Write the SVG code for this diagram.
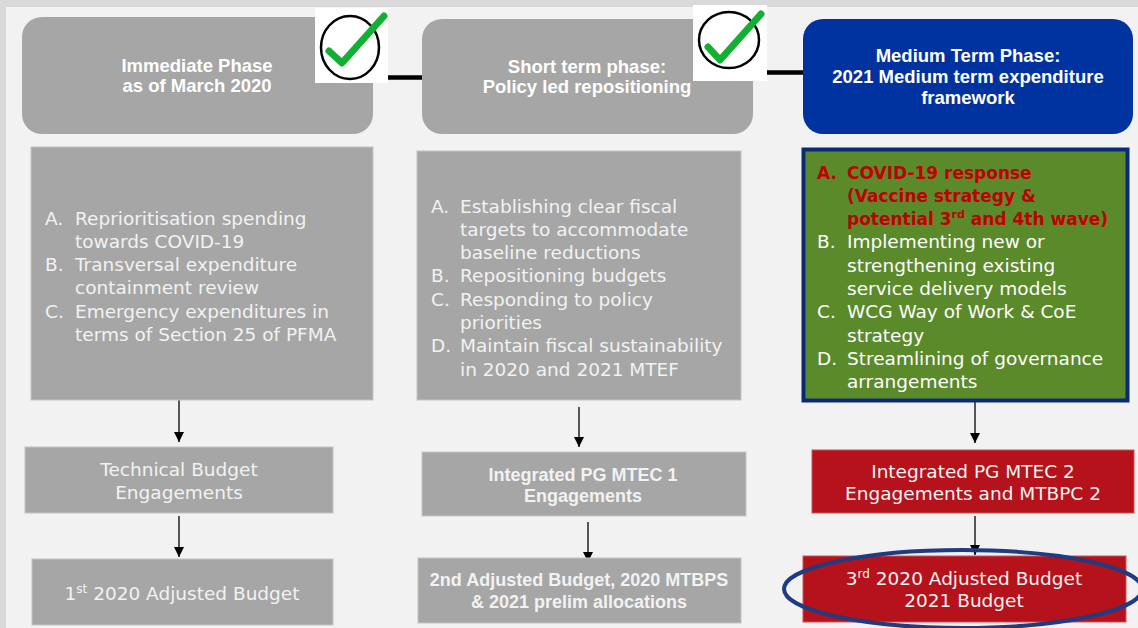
<svg xmlns="http://www.w3.org/2000/svg" width="1138" height="628" viewBox="0 0 1138 628">
<defs>
<style>
.bg{fill:#f2f2f2}
.frame{fill:#d9d9d9}
.gray{fill:#a6a6a6;stroke:#c4c4c4;stroke-width:1}
.red{fill:#b5121b;stroke:#c9545a;stroke-width:1}
.title{font-family:"Liberation Sans",Arial,sans-serif;font-weight:bold;font-size:18.5px;fill:#ffffff;text-anchor:middle}
.list{font-family:"DejaVu Sans","Liberation Sans",sans-serif;font-size:18.5px;fill:#f2f2f2}
.listw{font-family:"DejaVu Sans","Liberation Sans",sans-serif;font-size:18.5px;fill:#ffffff}
.listr{font-family:"DejaVu Sans","Liberation Sans",sans-serif;font-size:17px;font-weight:bold;fill:#c00000}
.reg{font-family:"DejaVu Sans","Liberation Sans",sans-serif;font-size:18.5px;fill:#f2f2f2;text-anchor:middle}
.bold{font-family:"Liberation Sans",Arial,sans-serif;font-weight:bold;font-size:18px;fill:#f2f2f2;text-anchor:middle}
.conn{stroke:#000;stroke-width:1.3;fill:none}
.thick{stroke:#000;stroke-width:4.5;fill:none}
.circ{fill:none;stroke:#000;stroke-width:2.5}
.tick{fill:none;stroke:#12b032;stroke-width:7;stroke-linecap:round;stroke-linejoin:round}
</style>
<marker id="ah" markerUnits="userSpaceOnUse" markerWidth="10" markerHeight="11" refX="5" refY="10" orient="auto-start-reverse" viewBox="0 0 10 11">
<path d="M0,0 L10,0 L5,10 Z" fill="#000" transform="rotate(-90 5 5) translate(0,0)"/>
</marker>
<marker id="arr" markerUnits="userSpaceOnUse" markerWidth="10" markerHeight="10" refX="10" refY="5" orient="auto" viewBox="0 0 10 10">
<path d="M0,0 L10,5 L0,10 Z" fill="#000"/>
</marker>
</defs>

<rect class="bg" x="0" y="0" width="1138" height="628"/>
<rect class="frame" x="0" y="0" width="1138" height="7"/>
<rect class="frame" x="0" y="0" width="6" height="628"/>

<g id="connectors">
<line class="thick" x1="373" y1="77.5" x2="422" y2="77.5"/>
<line class="thick" x1="753" y1="72.5" x2="803" y2="72.5"/>
<line class="conn" x1="179" y1="400" x2="179" y2="442" marker-end="url(#arr)"/>
<line class="conn" x1="179" y1="516" x2="179" y2="557" marker-end="url(#arr)"/>
<line class="conn" x1="579" y1="407" x2="579" y2="447" marker-end="url(#arr)"/>
<line class="conn" x1="588" y1="522" x2="588" y2="562" marker-end="url(#arr)"/>
<line class="conn" x1="975" y1="402" x2="975" y2="443" marker-end="url(#arr)"/>
<line class="conn" x1="975" y1="516" x2="975" y2="555" marker-end="url(#arr)"/>
</g>

<g id="phase1">
<rect x="22" y="17" width="351" height="117" rx="20" fill="#a6a6a6"/>
<text class="title" x="197" y="72">Immediate Phase</text>
<text class="title" x="197" y="92">as of March 2020</text>
</g>

<g id="check1">
<rect x="315" y="8" width="73" height="75" fill="#ffffff"/>
<ellipse class="circ" cx="350" cy="47.5" rx="29" ry="31.5"/>
<polyline class="tick" points="329,51 342,63 384,16"/>
</g>

<g id="phase2">
<rect x="422" y="19" width="331" height="115" rx="20" fill="#a6a6a6"/>
<text class="title" x="587" y="73">Short term phase:</text>
<text class="title" x="587" y="93">Policy led repositioning</text>
</g>

<g id="check2">
<rect x="693" y="5" width="74" height="76" fill="#ffffff"/>
<ellipse class="circ" cx="729" cy="40" rx="30" ry="28"/>
<polyline class="tick" points="708,47 720,60 761,14"/>
</g>

<g id="phase3">
<rect x="803" y="19" width="330" height="115" rx="20" fill="#0033a0"/>
<text class="title" x="968" y="62">Medium Term Phase:</text>
<text class="title" x="968" y="83">2021 Medium term expenditure</text>
<text class="title" x="968" y="104">framework</text>
</g>

<g id="list1">
<rect class="gray" x="31" y="147" width="342" height="253"/>
<text class="list">
<tspan x="45" y="224.5">A.</tspan><tspan x="75" y="224.5">Reprioritisation spending</tspan>
<tspan x="75" y="247.8">towards COVID-19</tspan>
<tspan x="45" y="271.1">B.</tspan><tspan x="75" y="271.1">Transversal expenditure</tspan>
<tspan x="75" y="294.4">containment review</tspan>
<tspan x="45" y="317.7">C.</tspan><tspan x="75" y="317.7">Emergency expenditures in</tspan>
<tspan x="75" y="341">terms of Section 25 of PFMA</tspan>
</text>
</g>

<g id="list2">
<rect class="gray" x="417" y="151" width="324" height="249"/>
<text class="list">
<tspan x="431" y="212.5">A.</tspan><tspan x="460" y="212.5">Establishing clear fiscal</tspan>
<tspan x="460" y="235.8">targets to accommodate</tspan>
<tspan x="460" y="259.1">baseline reductions</tspan>
<tspan x="431" y="282.4">B.</tspan><tspan x="460" y="282.4">Repositioning budgets</tspan>
<tspan x="431" y="305.7">C.</tspan><tspan x="460" y="305.7">Responding to policy</tspan>
<tspan x="460" y="329">priorities</tspan>
<tspan x="431" y="352.3">D.</tspan><tspan x="460" y="352.3">Maintain fiscal sustainability</tspan>
<tspan x="460" y="375.6">in 2020 and 2021 MTEF</tspan>
</text>
</g>

<g id="list3">
<rect x="803.5" y="149.5" width="324" height="251" fill="#5b8a2a" stroke="#0a2a78" stroke-width="4"/>
<text class="listr">
<tspan x="817" y="178.5">A.</tspan><tspan x="847" y="178.5">COVID-19 response</tspan>
<tspan x="847" y="201.8">(Vaccine strategy &amp;</tspan>
<tspan x="847" y="225.1">potential 3</tspan><tspan font-size="11" dy="-7">rd</tspan><tspan dy="7"> and 4th wave)</tspan>
</text>
<text class="listw">
<tspan x="817" y="248.4">B.</tspan><tspan x="847" y="248.4">Implementing new or</tspan>
<tspan x="847" y="271.7">strengthening existing</tspan>
<tspan x="847" y="295">service delivery models</tspan>
<tspan x="817" y="318.3">C.</tspan><tspan x="847" y="318.3">WCG Way of Work &amp; CoE</tspan>
<tspan x="847" y="341.6">strategy</tspan>
<tspan x="817" y="364.9">D.</tspan><tspan x="847" y="364.9">Streamlining of governance</tspan>
<tspan x="847" y="388.2">arrangements</tspan>
</text>
</g>

<g id="tech-budget">
<rect class="gray" x="25" y="447" width="308" height="66"/>
<text class="reg" x="179" y="476">Technical Budget</text>
<text class="reg" x="179" y="499">Engagements</text>
</g>

<g id="adj1">
<rect class="gray" x="32" y="559" width="301" height="66"/>
<text class="reg" x="182" y="600">1<tspan font-size="12" dy="-7">st</tspan><tspan dy="7"> 2020 Adjusted Budget</tspan></text>
</g>

<g id="mtec1">
<rect class="gray" x="422" y="452" width="324" height="64"/>
<text class="bold" x="583" y="481">Integrated PG MTEC 1</text>
<text class="bold" x="583" y="502">Engagements</text>
</g>

<g id="adj2">
<rect class="gray" x="418" y="558" width="323" height="65"/>
<text class="bold" x="579" y="586">2nd Adjusted Budget, 2020 MTBPS</text>
<text class="bold" x="579" y="608">&amp; 2021 prelim allocations</text>
</g>

<g id="mtec2">
<rect class="red" x="812" y="450" width="322" height="63"/>
<text class="reg" x="973" y="478" fill="#ffffff">Integrated PG MTEC 2</text>
<text class="reg" x="973" y="500" fill="#ffffff">Engagements and MTBPC 2</text>
</g>

<g id="adj3">
<rect class="red" x="803" y="556" width="323" height="66"/>
<text class="reg" x="964" y="585">3<tspan font-size="12" dy="-7">rd</tspan><tspan dy="7"> 2020 Adjusted Budget</tspan></text>
<text class="reg" x="964" y="607">2021 Budget</text>
<ellipse cx="963" cy="589" rx="179" ry="39" fill="none" stroke="#1f3b82" stroke-width="4"/>
</g>
</svg>
